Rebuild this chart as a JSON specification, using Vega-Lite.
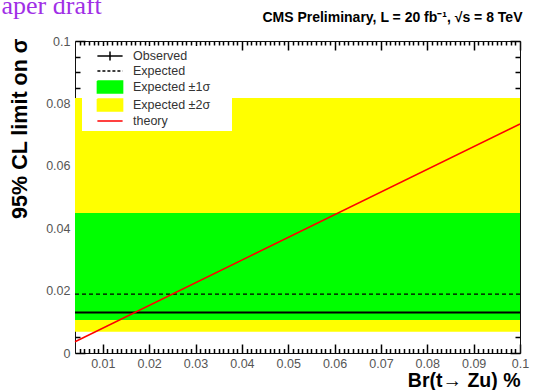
{
  "$schema": "https://vega.github.io/schema/vega-lite/v6.json",
  "autosize": {"type": "none"},
  "padding": {"left": 75, "top": 41, "right": 13, "bottom": 37},
  "width": 445,
  "height": 312,
  "background": "white",
  "config": {
    "view": {"stroke": null},
    "axis": {
      "grid": false,
      "domainColor": "#111111",
      "domainWidth": 1,
      "labelFont": "Liberation Sans",
      "labelFontSize": 12.5,
      "labelColor": "#555555",
      "titleFont": "Liberation Sans",
      "titleFontWeight": "bold",
      "titleColor": "#000000",
      "zindex": 1,
      "labelFlush": false,
      "labelOverlap": false
    }
  },
  "resolve": {"axis": {"x": "independent", "y": "independent"}},
  "layer": [
    {
      "data": {"values": [
        {"series": "Expected ±2σ", "x0": 0.004, "x1": 0.1, "lo": 0.0068, "hi": 0.0817}
      ]},
      "mark": {"type": "rect"},
      "encoding": {
        "x": {"field": "x0", "type": "quantitative", "scale": {"domain": [0.004, 0.1], "nice": false, "zero": false}, "axis": null},
        "x2": {"field": "x1"},
        "y": {"field": "lo", "type": "quantitative", "scale": {"domain": [0, 0.1], "nice": false}, "axis": null},
        "y2": {"field": "hi"},
        "color": {"field": "series", "type": "nominal",
          "scale": {"domain": ["Observed", "Expected", "Expected ±1σ", "Expected ±2σ", "theory"], "range": ["#000000", "#000000", "#00ff00", "#ffff00", "#ff0000"]},
          "legend": {
            "title": null, "orient": "none", "legendX": 7, "legendY": 5,
            "padding": 3, "rowPadding": 0, "fillColor": "white",
            "symbolSize": 144, "symbolOffset": 18, "symbolStrokeWidth": 1.5, "labelOffset": 16,
            "labelFont": "Liberation Sans", "labelFontSize": 12.5, "labelColor": "#333333",
            "encode": {"symbols": {"update": {
              "shape": {"signal": "datum.value === 'Observed' ? 'M-2.1,0H2.1M0,-0.75V0.75M19.2,0' : (datum.value === 'Expected ±1σ' || datum.value === 'Expected ±2σ') ? 'M-2.1,-1H2.1V1H-2.1ZM19.2,0' : 'M-2.1,0H2.1M19.2,0'"},
              "fill": {"signal": "datum.value === 'Expected ±1σ' ? '#00ff00' : datum.value === 'Expected ±2σ' ? '#ffff00' : 'transparent'"},
              "stroke": {"signal": "datum.value === 'theory' ? '#ff0000' : (datum.value === 'Observed' || datum.value === 'Expected') ? '#000000' : 'transparent'"},
              "strokeDash": {"signal": "datum.value === 'Expected' ? [3,2] : [1,0]"},
              "opacity": {"value": 1}
            }}}
          }}
      }
    },
    {
      "data": {"values": [
        {"series": "Expected ±1σ", "x": 0.004, "lo": 0.0106, "hi": 0.0449},
        {"series": "Expected ±1σ", "x": 0.1, "lo": 0.0106, "hi": 0.0449}
      ]},
      "mark": {"type": "area", "opacity": 1},
      "encoding": {
        "x": {"field": "x", "type": "quantitative",
          "axis": {
            "orient": "top", "labels": false, "domain": false, "title": null, "ticks": true, "tickColor": "#000000", "tickWidth": 1.5, "tickSize": -4,
            "values": [0.005,0.006,0.007,0.008,0.009,0.011,0.012,0.013,0.014,0.015,0.016,0.017,0.018,0.019,0.021,0.022,0.023,0.024,0.025,0.026,0.027,0.028,0.029,0.031,0.032,0.033,0.034,0.035,0.036,0.037,0.038,0.039,0.041,0.042,0.043,0.044,0.045,0.046,0.047,0.048,0.049,0.051,0.052,0.053,0.054,0.055,0.056,0.057,0.058,0.059,0.061,0.062,0.063,0.064,0.065,0.066,0.067,0.068,0.069,0.071,0.072,0.073,0.074,0.075,0.076,0.077,0.078,0.079,0.081,0.082,0.083,0.084,0.085,0.086,0.087,0.088,0.089,0.091,0.092,0.093,0.094,0.095,0.096,0.097,0.098,0.099]
          }},
        "y": {"field": "lo", "type": "quantitative",
          "axis": {
            "orient": "right", "labels": false, "domain": false, "title": null, "ticks": true, "tickColor": "#000000", "tickWidth": 1.5, "tickSize": -5,
            "values": [0.005,0.01,0.015,0.025,0.03,0.035,0.045,0.05,0.055,0.065,0.07,0.075,0.085,0.09,0.095]
          }},
        "y2": {"field": "hi"},
        "color": {"field": "series", "type": "nominal"}
      }
    },
    {
      "data": {"values": [
        {"series": "Expected", "x": 0.004, "y": 0.0189},
        {"series": "Expected", "x": 0.1, "y": 0.0189}
      ]},
      "mark": {"type": "line", "strokeDash": [4, 3], "strokeWidth": 1.3},
      "encoding": {
        "x": {"field": "x", "type": "quantitative",
          "axis": {
            "orient": "bottom",
            "title": "Br(t→ Zu) %",
            "titleFontSize": 19.5,
            "titleX": 445, "titleY": 33.5, "titleAlign": "right", "titleBaseline": "alphabetic", "titleAnchor": null,
            "values": [0.01,0.02,0.03,0.04,0.05,0.06,0.07,0.08,0.09,0.1],
            "format": "~g",
            "ticks": true, "tickColor": "#000000", "tickWidth": 1.5, "tickSize": -9,
            "labelPadding": 13
          }},
        "y": {"field": "y", "type": "quantitative",
          "axis": {
            "orient": "left",
            "title": "95% CL limit on σ",
            "titleFontSize": 21.5,
            "titleAngle": -90,
            "titleX": -54.5, "titleY": -3, "titleAlign": "right", "titleBaseline": "middle", "titleAnchor": null,
            "values": [0,0.02,0.04,0.06,0.08,0.1],
            "format": "~g",
            "ticks": true, "tickColor": "#000000", "tickWidth": 1.5, "tickSize": -10,
            "labelPadding": 15
          }},
        "color": {"field": "series", "type": "nominal"}
      }
    },
    {
      "data": {"values": [
        {"series": "Observed", "x": 0.004, "y": 0.013},
        {"series": "Observed", "x": 0.1, "y": 0.013}
      ]},
      "mark": {"type": "line", "strokeWidth": 2},
      "encoding": {
        "x": {"field": "x", "type": "quantitative",
          "axis": {
            "orient": "top",
            "labels": false,
            "title": "CMS Preliminary, L = 20 fb⁻¹,  √s = 8 TeV",
            "titleFontSize": 14,
            "titleX": 447, "titleY": -19.3, "titleAlign": "right", "titleBaseline": "alphabetic", "titleAnchor": null,
            "values": [0.01,0.02,0.03,0.04,0.05,0.06,0.07,0.08,0.09,0.1],
            "ticks": true, "tickColor": "#000000", "tickWidth": 1.5, "tickSize": -9
          }},
        "y": {"field": "y", "type": "quantitative",
          "axis": {
            "orient": "right",
            "labels": false,
            "title": "aper draft",
            "titleFont": "Liberation Serif",
            "titleFontWeight": "normal",
            "titleFontSize": 26,
            "titleColor": "#a02fe6",
            "titleAngle": 0,
            "titleX": -519, "titleY": -28, "titleAlign": "left", "titleBaseline": "alphabetic", "titleAnchor": null,
            "values": [0,0.02,0.04,0.06,0.08,0.1],
            "ticks": true, "tickColor": "#000000", "tickWidth": 1.5, "tickSize": -10
          }},
        "color": {"field": "series", "type": "nominal"}
      }
    },
    {
      "data": {"values": [
        {"series": "theory", "x": 0.004, "y": 0.0036},
        {"series": "theory", "x": 0.1, "y": 0.0734}
      ]},
      "mark": {"type": "line", "strokeWidth": 1.5},
      "encoding": {
        "x": {"field": "x", "type": "quantitative",
          "axis": {
            "orient": "bottom", "labels": false, "domain": false, "title": null, "ticks": true, "tickColor": "#000000", "tickWidth": 1.5, "tickSize": -4.5,
            "values": [0.005,0.006,0.007,0.008,0.009,0.011,0.012,0.013,0.014,0.015,0.016,0.017,0.018,0.019,0.021,0.022,0.023,0.024,0.025,0.026,0.027,0.028,0.029,0.031,0.032,0.033,0.034,0.035,0.036,0.037,0.038,0.039,0.041,0.042,0.043,0.044,0.045,0.046,0.047,0.048,0.049,0.051,0.052,0.053,0.054,0.055,0.056,0.057,0.058,0.059,0.061,0.062,0.063,0.064,0.065,0.066,0.067,0.068,0.069,0.071,0.072,0.073,0.074,0.075,0.076,0.077,0.078,0.079,0.081,0.082,0.083,0.084,0.085,0.086,0.087,0.088,0.089,0.091,0.092,0.093,0.094,0.095,0.096,0.097,0.098,0.099]
          }},
        "y": {"field": "y", "type": "quantitative",
          "axis": {
            "orient": "left", "labels": false, "domain": false, "title": null, "ticks": true, "tickColor": "#000000", "tickWidth": 1.5, "tickSize": -5,
            "values": [0.005,0.01,0.015,0.025,0.03,0.035,0.045,0.05,0.055,0.065,0.07,0.075,0.085,0.09,0.095]
          }},
        "color": {"field": "series", "type": "nominal"}
      }
    }
  ]
}
